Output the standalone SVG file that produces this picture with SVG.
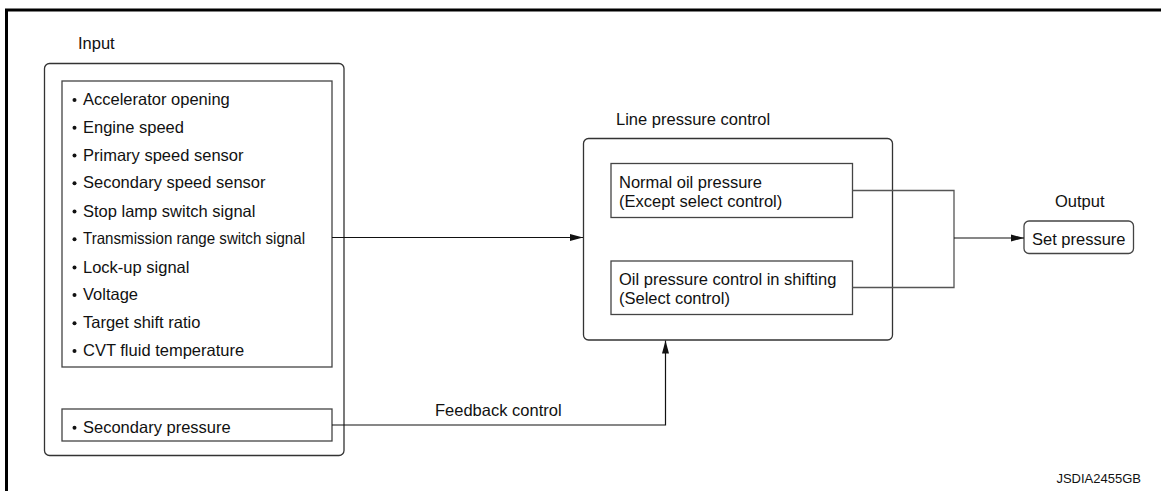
<svg xmlns="http://www.w3.org/2000/svg" width="1161" height="491" viewBox="0 0 1161 491">
<defs>
<style>
text{font-family:"Liberation Sans",Arial,sans-serif;font-size:16.5px;fill:#111}
.outer{fill:none;stroke:#333;stroke-width:1.3}
.inner{fill:#fff;stroke:#444;stroke-width:1.3}
.wire{fill:none;stroke:#111;stroke-width:1.2}
.gwire{fill:none;stroke:#555;stroke-width:1.3}
.small{font-size:13px}
</style>
<marker id="arr" viewBox="0 0 13 8" refX="13" refY="4" markerWidth="13" markerHeight="8" markerUnits="userSpaceOnUse" orient="auto">
<path d="M0,0.5 L13,4 L0,7.5 Z" fill="#111"/>
</marker>
</defs>
<rect width="1161" height="491" fill="#fff"/>
<path d="M6.5,491 V10 H1161" fill="none" stroke="#000" stroke-width="3"/>

<g id="input">
<text x="78" y="49">Input</text>
<rect class="outer" x="44.5" y="63.5" width="299.5" height="392" rx="5"/>
<rect class="inner" x="62" y="81" width="270" height="286"/>
<g id="input-list">
<circle cx="74.5" cy="100" r="2" fill="#111"/><text x="83" y="105">Accelerator opening</text>
<circle cx="74.5" cy="127.7" r="2" fill="#111"/><text x="83" y="132.7">Engine speed</text>
<circle cx="74.5" cy="155.5" r="2" fill="#111"/><text x="83" y="160.5">Primary speed sensor</text>
<circle cx="74.5" cy="183.3" r="2" fill="#111"/><text x="83" y="188.3">Secondary speed sensor</text>
<circle cx="74.5" cy="211.5" r="2" fill="#111"/><text x="83" y="216.5">Stop lamp switch signal</text>
<circle cx="74.5" cy="239.3" r="2" fill="#111"/><text x="83" y="244.3" textLength="222" lengthAdjust="spacingAndGlyphs">Transmission range switch signal</text>
<circle cx="74.5" cy="267.5" r="2" fill="#111"/><text x="83" y="272.5">Lock-up signal</text>
<circle cx="74.5" cy="295" r="2" fill="#111"/><text x="83" y="300">Voltage</text>
<circle cx="74.5" cy="323.3" r="2" fill="#111"/><text x="83" y="328.3">Target shift ratio</text>
<circle cx="74.5" cy="351" r="2" fill="#111"/><text x="83" y="356">CVT fluid temperature</text>
</g>
</g>

<g id="secondary-pressure">
<rect class="inner" x="62" y="409" width="270" height="32"/>
<circle cx="74.5" cy="427.7" r="2" fill="#111"/><text x="83" y="432.7">Secondary pressure</text>
</g>

<g id="line-pressure-control">
<text x="616" y="125">Line pressure control</text>
<rect class="outer" x="583.5" y="138.5" width="309" height="201.5" rx="5"/>
</g>

<g id="normal-oil-pressure">
<rect class="inner" x="611" y="163.5" width="241.5" height="54"/>
<text x="619" y="187.5">Normal oil pressure</text>
<text x="619" y="206.5">(Except select control)</text>
</g>

<g id="shift-oil-pressure">
<rect class="inner" x="611" y="261" width="241.5" height="53.5"/>
<text x="619" y="285">Oil pressure control in shifting</text>
<text x="619" y="304">(Select control)</text>
</g>

<g id="output">
<text x="1055" y="207">Output</text>
<rect class="inner" x="1024" y="221" width="109.5" height="32.5" rx="5"/>
<text x="1032" y="245">Set pressure</text>
</g>

<g id="connectors">
<path class="wire" d="M332,237.5 H583" marker-end="url(#arr)"/>
<path class="wire" d="M332,425 H665.5 V340.5" marker-end="url(#arr)"/>
<path class="gwire" d="M852.5,190.5 H954 V287.5 H852.5"/>
<path class="wire" d="M954,238 H1024" marker-end="url(#arr)"/>
<text x="435" y="416">Feedback control</text>
</g>

<text class="small" x="1141" y="483" text-anchor="end">JSDIA2455GB</text>
</svg>
